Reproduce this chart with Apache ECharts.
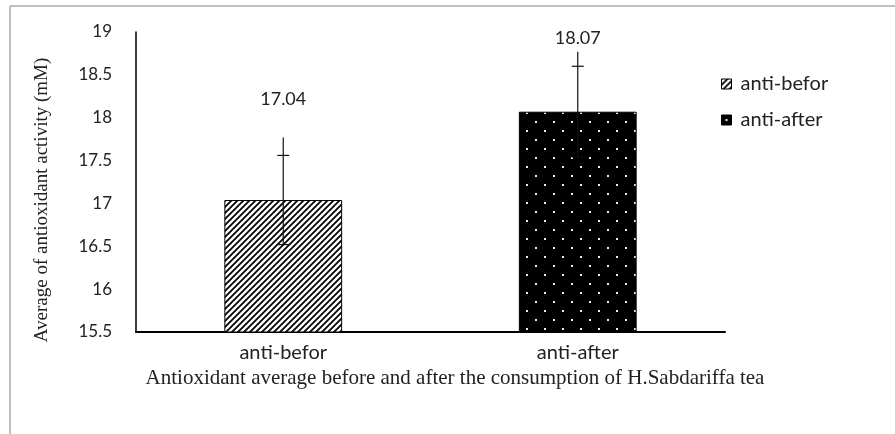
<!DOCTYPE html>
<html>
<head>
<meta charset="utf-8">
<script src="https://cdn.jsdelivr.net/npm/echarts@6/dist/echarts.min.js"></script>
<style>
html,body{margin:0;padding:0;background:#fff;}
#c{width:895px;height:434px;}
</style>
</head>
<body>
<div id="c"></div>
<script>
// ---- data ----
var categories = ['anti-befor', 'anti-after'];
var seriesNames = ['anti-befor', 'anti-after'];
var means = [17.04, 18.07];
var errors = [0.52, 0.53];
var whiskerTops = [17.77, 18.77];   // upper end of the drawn error line
var yTicks = {min: 15.5, max: 19, interval: 0.5};
var xTitle = 'Antioxidant average before and after the consumption of H.Sabdariffa tea';
var yTitle = 'Average of antioxidant activity (mM)';

// ---- patterns ----
function hatch() {
  var c = document.createElement('canvas'); c.width = 6; c.height = 6;
  var g = c.getContext('2d');
  g.fillStyle = '#fff'; g.fillRect(0, 0, 6, 6);
  g.strokeStyle = '#000'; g.lineWidth = 1.8;
  g.beginPath();
  g.moveTo(-1, 7); g.lineTo(7, -1);
  g.moveTo(-4, 4); g.lineTo(4, -4);
  g.moveTo(2, 10); g.lineTo(10, 2);
  g.stroke();
  return c;
}
function dots() {
  var c = document.createElement('canvas'); c.width = 18; c.height = 18;
  var g = c.getContext('2d');
  g.fillStyle = '#000'; g.fillRect(0, 0, 18, 18);
  g.fillStyle = '#eee';
  g.fillRect(4, 4, 2, 2);
  g.fillRect(13, 13, 2, 2);
  return c;
}
var fills = [{image: hatch(), repeat: 'repeat'}, {image: dots(), repeat: 'repeat'}];
var labelOffsets = [-92, -65];

var chart = echarts.init(document.getElementById('c'));
var txt = '#222';
var sans = 'Lato';
var serif = 'Liberation Serif';

var barSeries = seriesNames.map(function (name, i) {
  return {
    name: name,
    type: 'bar',
    stack: 'one',
    barWidth: '40%',
    data: means.map(function (v, j) { return j === i ? v : '-'; }),
    itemStyle: {color: fills[i], borderColor: '#000', borderWidth: 1},
    label: {
      show: true, position: 'top', distance: 0, offset: [0, labelOffsets[i]],
      color: txt, fontFamily: sans, fontSize: 18,
      formatter: function (p) { return p.value.toFixed(2); }
    },
    z: 2
  };
});

var errData = means.map(function (m, i) { return [i, m - errors[i], m + errors[i], whiskerTops[i]]; });

var option = {
  animation: false,
  backgroundColor: '#fff',
  grid: {left: 136, right: 170, top: 32, bottom: 102},
  legend: {
    orient: 'vertical', left: 716, top: 69,
    itemWidth: 10, itemHeight: 10, itemGap: 16, icon: 'rect',
    data: seriesNames,
    textStyle: {color: txt, fontFamily: sans, fontSize: 20, padding: [0, 0, 0, 4]},
    itemStyle: {borderColor: '#000', borderWidth: 1}
  },
  xAxis: {
    type: 'category', data: categories,
    axisLine: {lineStyle: {color: '#000', width: 2}},
    axisTick: {show: false},
    axisLabel: {color: txt, fontFamily: sans, fontSize: 20, margin: 11}
  },
  yAxis: {
    type: 'value', min: yTicks.min, max: yTicks.max, interval: yTicks.interval,
    axisLine: {show: true, lineStyle: {color: '#000', width: 1.5}},
    axisTick: {show: false},
    splitLine: {show: false},
    axisLabel: {color: txt, fontFamily: sans, fontSize: 17, margin: 24}
  },
  graphic: [
    {type: 'line', shape: {x1: 10, y1: 6, x2: 895, y2: 6}, style: {stroke: '#aaa', lineWidth: 1.5}},
    {type: 'line', shape: {x1: 10, y1: 6, x2: 10, y2: 434}, style: {stroke: '#aaa', lineWidth: 1.5}},
    {type: 'text', x: 455, y: 378, style: {text: xTitle, font: '21px "' + serif + '"', fill: txt, align: 'center', verticalAlign: 'middle'}},
    {type: 'text', x: 42, y: 200, rotation: Math.PI / 2, style: {text: yTitle, font: '19px "' + serif + '"', fill: txt, align: 'center', verticalAlign: 'middle'}}
  ],
  series: barSeries.concat([{
    type: 'custom',
    name: 'err',
    data: errData,
    z: 5,
    renderItem: function (params, api) {
      var x = api.coord([api.value(0), api.value(1)])[0];
      var lo = api.coord([api.value(0), api.value(1)])[1];
      var hi = api.coord([api.value(0), api.value(2)])[1];
      var top = api.coord([api.value(0), api.value(3)])[1];
      var st = {stroke: '#111', lineWidth: 1.2};
      return {type: 'group', children: [
        {type: 'line', shape: {x1: x, y1: top, x2: x, y2: lo}, style: st},
        {type: 'line', shape: {x1: x - 6, y1: hi, x2: x + 6, y2: hi}, style: st},
        {type: 'line', shape: {x1: x - 6, y1: lo, x2: x + 6, y2: lo}, style: st}
      ]};
    }
  }])
};
chart.setOption(option);
</script>
</body>
</html>
